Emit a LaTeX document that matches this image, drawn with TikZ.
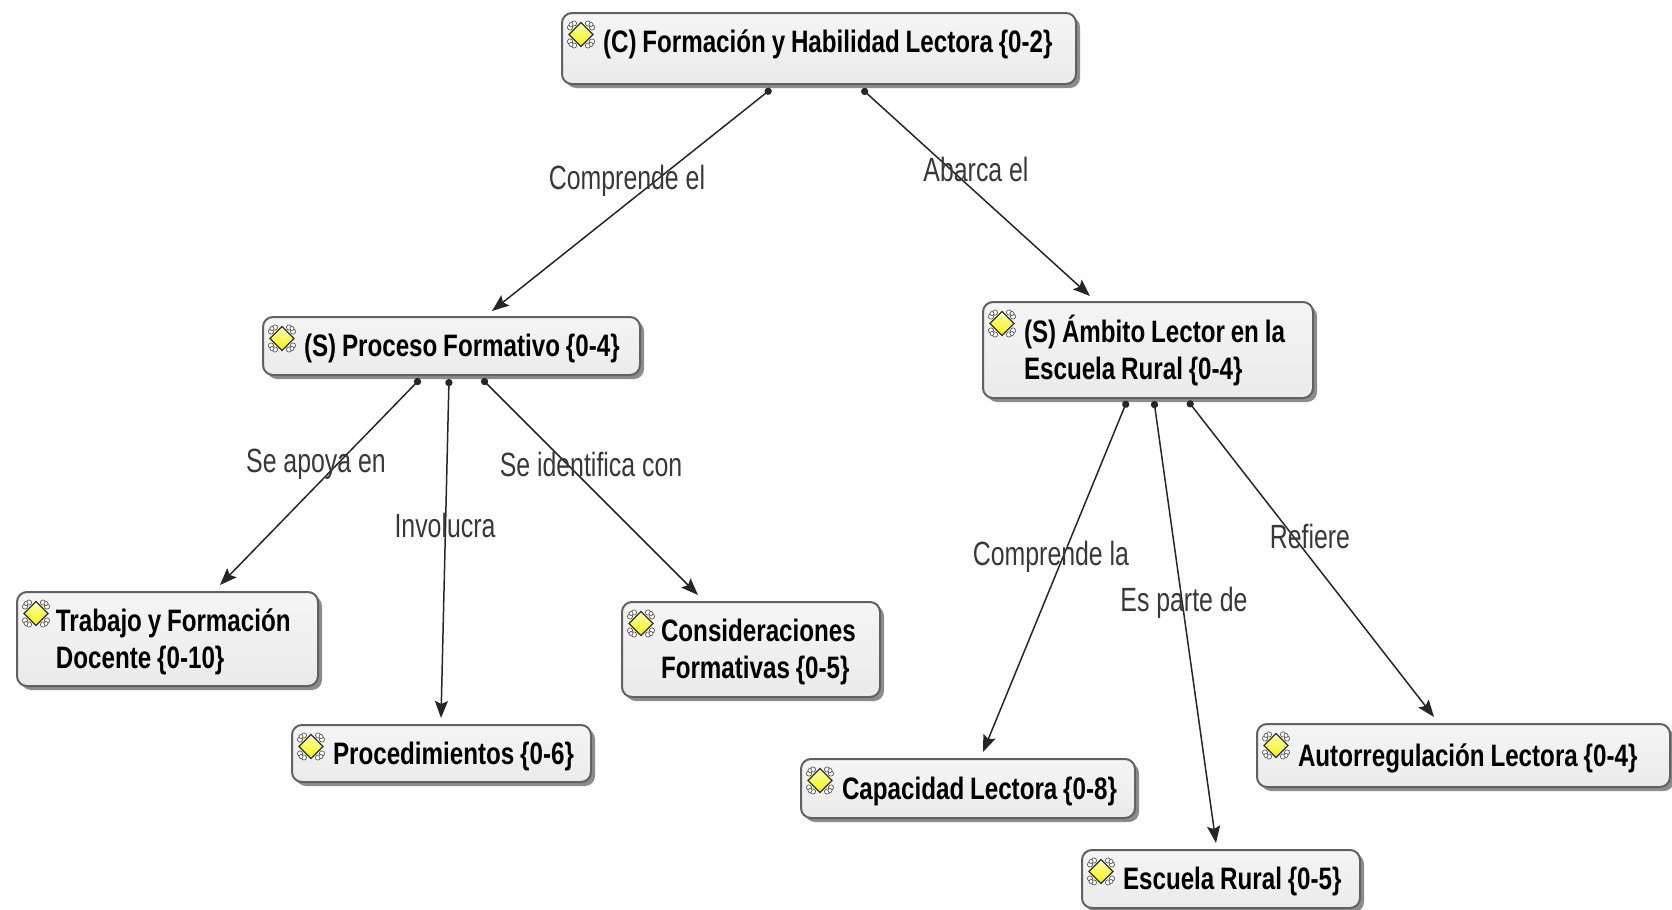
\documentclass[tikz,border=0pt]{standalone}
\usepackage{fontspec}
\setmainfont{Liberation Sans}
\newfontfamily\narrowf[FakeStretch=0.74]{Liberation Sans}
\newfontfamily\boldn[FakeStretch=0.78,UprightFont=* Bold]{Liberation Sans}
\usetikzlibrary{arrows.meta,shadows}
\tikzset{
  x=0.5pt,y=-0.5pt,
  conceptbox/.style={rectangle,rounded corners=5pt,draw=black!62,line width=1pt,
    top color=white!96!black,bottom color=black!8,
    drop shadow={shadow xshift=2pt,shadow yshift=-2pt,fill=black,opacity=.45},
    inner sep=0pt,align=left,font=\boldn\fontsize{15.5}{18.5}\selectfont,text=black},
  linklabel/.style={font=\narrowf\fontsize{16.8}{18}\selectfont,text=black!78,inner sep=0pt},
  conn/.style={black!85,line width=.75pt,{Circle[length=3.6pt,width=3.6pt]}-{Stealth[length=8.5pt,width=6.5pt,inset=1.5pt]}},
  ico/.pic={
    \foreach \a/\b in {-1/-1,1/-1,-1/1,1/1}{
      \draw[black!65,line width=.35pt,fill=white] (\a*7,\b*11) circle (1.3pt);
      \draw[black!65,line width=.35pt,fill=white] (\a*11,\b*7) circle (1.3pt);
      \draw[black!65,line width=.35pt,fill=white] (\a*10,\b*10) circle (1pt);
    }
    \draw[black!80,line width=.55pt,top color=yellow!25,bottom color=yellow!95!black] (0,-12) -- (12,0) -- (0,12) -- (-12,0) -- cycle;
  }
}
\newcommand{\conceptnode}[7][20.5pt]{%
  \node[conceptbox,minimum width=#5*0.5pt,minimum height=#6*0.5pt,text width=#5*0.5pt] (#2) at (#3,#4)
    {\spaceskip=2.9pt\relax\hspace*{#1}\raisebox{-1.6pt}[\height][\depth]{\begin{tabular}{@{}l@{}}#7\end{tabular}}};
  \pic at ([shift={(20,22.5)}]#2.north west) {ico};
}
\begin{document}
\begin{tikzpicture}
\useasboundingbox (0,0) rectangle (1672,910);
\conceptnode{top}{819}{48.5}{514}{71}{(C) Formación y Habilidad Lectora \{0-2\}\\[-12pt]\mbox{}}
\conceptnode{proceso}{451.5}{346}{377}{58}{(S) Proceso Formativo \{0-4\}}
\conceptnode{ambito}{1148}{350}{330}{96}{(S) Ámbito Lector en la\\Escuela Rural \{0-4\}}
\conceptnode[19.5pt]{trabajo}{167.5}{639}{301}{94}{Trabajo y Formación\\Docente \{0-10\}}
\conceptnode{proced}{441.5}{753.5}{299}{57}{Procedimientos \{0-6\}}
\conceptnode[19.5pt]{consid}{751}{649.5}{258}{95}{Consideraciones\\Formativas \{0-5\}}
\conceptnode{capac}{968}{788.5}{334}{59}{Capacidad Lectora \{0-8\}}
\conceptnode{escuela}{1221}{879}{278}{58}{Escuela Rural \{0-5\}}
\conceptnode{autorr}{1463.5}{755.5}{413}{63}{Autorregulación Lectora \{0-4\}}

\draw[conn] ([shift={(-48,4)}]top.south) -- ([shift={(40.5,-5)}]proceso.north);
\draw[conn] ([shift={(43,4)}]top.south) -- ([shift={(-58,-5)}]ambito.north);
\draw[conn] ([shift={(-31.5,3)}]proceso.south) -- ([shift={(52.5,-6)}]trabajo.north);
\draw[conn] ([shift={(-2.5,3)}]proceso.south) -- ([shift={(-.5,-6)}]proced.north);
\draw[conn] ([shift={(30.5,3)}]proceso.south) -- ([shift={(-53,-6)}]consid.north);
\draw[conn] ([shift={(-21,2)}]ambito.south) -- ([shift={(15,-6)}]capac.north);
\draw[conn] ([shift={(6,2)}]ambito.south) -- ([shift={(-5,-6)}]escuela.north);
\draw[conn] ([shift={(40,2)}]ambito.south) -- ([shift={(-29.5,-6)}]autorr.north);

\node[linklabel] (l1) at (627,181) {Comprende el};
\node[linklabel] (l2) at (976,169) {Abarca el};
\node[linklabel] (l3) at (316,464) {Se apoya en};
\node[linklabel] (l4) at (445,525) {Involucra};
\node[linklabel] (l5) at (591,464) {Se identifica con};
\node[linklabel] (l6) at (1051,557) {Comprende la};
\node[linklabel] (l7) at (1184,603) {Es parte de};
\node[linklabel] (l8) at (1310,536) {Refiere};
\end{tikzpicture}
\end{document}
